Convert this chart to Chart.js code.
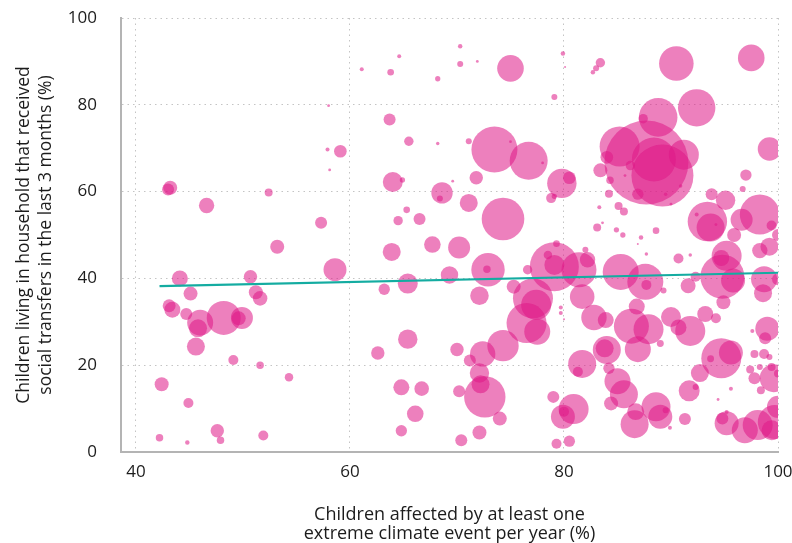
<!DOCTYPE html>
<html>
<head>
<meta charset="utf-8">
<script src="https://cdn.jsdelivr.net/npm/chart.js@4/dist/chart.umd.min.js"></script>
<style>
  html, body { margin: 0; padding: 0; background: #ffffff; }
  #wrap { width: 792px; height: 543px; }
</style>
</head>
<body>
<div id="wrap"><canvas id="chart" width="792" height="543"></canvas></div>
<script>
// Share of children affected by at least one extreme climate event per year (%)
const affectedPct = [
  43.0, 43.2, 46.6, 52.4, 57.3, 58.0, 57.9, 58.1, 59.1, 61.1,
  63.8, 64.6, 68.2, 70.3, 70.3, 71.9, 75.0, 63.7, 65.5, 68.2,
  71.1, 73.5, 75.0, 76.7, 78.0, 64.0, 64.9, 69.6, 71.8, 68.6,
  68.4, 71.1, 65.3, 64.5, 66.5, 74.3, 78.8, 79.1, 79.9, 80.1,
  79.1, 83.4, 83.0, 82.7, 90.5, 97.5, 88.8, 87.4, 92.4, 99.2,
  85.2, 87.7, 88.4, 89.2, 91.2, 84.0, 86.2, 83.4, 84.3, 86.9,
  84.2, 85.7, 90.9, 89.5, 90.0, 79.8, 80.5, 97.0, 96.7, 93.8,
  95.1, 93.4, 93.7, 98.3, 96.6, 99.4, 92.4, 83.3, 85.1, 85.6,
  83.6, 83.1, 84.9, 88.6, 100.0, 95.9, 99.2, 98.3, 85.5, 87.2,
  86.9, 87.7, 90.7, 91.8, 94.2, 53.2, 44.1, 50.7, 58.6, 45.1,
  43.1, 43.4, 44.7, 46.0, 45.8, 48.2, 49.9, 49.6, 51.2, 51.6,
  45.6, 49.1, 51.6, 54.3, 42.4, 44.9, 47.6, 47.9, 51.9, 42.2,
  44.8, 63.9, 67.7, 70.2, 72.9, 72.8, 69.3, 65.4, 63.2, 72.1,
  76.6, 75.3, 77.1, 76.5, 77.5, 77.4, 74.3, 72.4, 72.1, 72.2,
  72.6, 74.0, 72.1, 70.4, 70.2, 70.0, 71.2, 65.4, 62.6, 64.8,
  66.7, 66.1, 64.8, 79.1, 78.5, 79.1, 81.4, 82.0, 82.2, 79.3,
  85.3, 87.6, 87.7, 81.7, 82.8, 83.9, 79.7, 79.7, 80.0, 81.7,
  81.3, 80.9, 79.9, 80.0, 79.0, 79.3, 80.5, 84.0, 83.8, 84.2,
  85.0, 85.6, 84.4, 86.6, 86.7, 88.6, 89.0, 89.5, 91.3, 89.9,
  86.3, 87.9, 86.9, 86.8, 90.0, 90.7, 91.8, 91.6, 92.3, 89.3,
  89.0, 93.2, 94.2, 94.9, 94.8, 95.8, 95.2, 94.7, 98.7, 100.0,
  98.6, 99.0, 98.8, 97.6, 94.7, 95.6, 93.7, 92.7, 91.7, 92.3,
  95.6, 94.4, 95.2, 94.8, 95.2, 96.9, 98.1, 99.7, 100.0, 99.4,
  99.6, 100.0, 99.4, 98.3, 97.4, 97.8, 98.4, 97.8, 98.7, 99.2
];

// Share of children living in a household that received social transfers (%)
const transferPct = [
  60.5, 60.9, 56.8, 59.8, 52.8, 79.8, 69.7, 65.0, 69.3, 88.2,
  87.5, 91.2, 86.0, 93.5, 89.4, 90.0, 88.4, 76.6, 71.6, 71.1,
  71.6, 69.7, 71.5, 67.1, 66.6, 62.2, 62.7, 62.4, 63.2, 59.7,
  58.4, 57.4, 55.8, 53.3, 53.7, 53.7, 58.5, 58.9, 91.8, 88.7,
  81.8, 89.7, 88.4, 87.5, 89.5, 90.8, 77.1, 76.8, 79.3, 69.8,
  70.4, 66.7, 67.4, 63.7, 68.5, 67.9, 66.0, 64.9, 62.6, 59.4,
  59.5, 63.7, 61.3, 59.4, 57.1, 61.9, 63.2, 63.8, 60.6, 59.4,
  58.0, 53.1, 51.7, 54.7, 53.5, 52.2, 54.7, 56.4, 56.7, 55.4,
  52.8, 51.7, 51.2, 51.0, 50.0, 50.0, 47.3, 46.4, 50.0, 49.4,
  47.9, 45.6, 44.6, 45.4, 52.4, 47.3, 40.0, 40.4, 42.0, 36.5,
  33.7, 32.8, 31.8, 29.8, 28.5, 30.9, 30.9, 30.8, 36.8, 35.4,
  24.3, 21.2, 20.0, 17.2, 15.6, 11.3, 4.9, 2.7, 3.8, 3.3,
  2.2, 46.1, 47.8, 47.1, 42.0, 42.1, 40.8, 38.8, 37.5, 36.0,
  42.0, 38.1, 35.4, 29.7, 27.7, 33.9, 24.5, 22.6, 18.2, 15.6,
  12.7, 7.7, 4.5, 2.7, 14.0, 23.6, 21.1, 26.0, 22.8, 14.9,
  14.6, 8.8, 4.9, 42.7, 45.4, 43.1, 42.0, 46.6, 44.3, 48.0,
  41.5, 39.2, 38.5, 35.8, 31.0, 30.4, 33.3, 32.0, 30.6, 20.3,
  18.5, 9.9, 8.1, 9.3, 12.7, 1.9, 2.5, 23.5, 23.9, 19.3,
  16.3, 13.3, 11.2, 6.4, 9.3, 10.4, 8.1, 9.6, 7.6, 5.6,
  29.0, 28.3, 23.7, 33.5, 31.1, 28.7, 27.9, 38.3, 40.4, 37.2,
  25.0, 31.8, 30.8, 34.5, 40.4, 39.5, 45.2, 44.7, 39.8, 39.8,
  36.6, 28.4, 26.2, 27.9, 21.6, 22.9, 21.5, 18.2, 14.1, 15.0,
  14.6, 12.1, 6.6, 7.7, 9.2, 5.0, 6.2, 6.9, 10.4, 5.0,
  17.0, 18.1, 19.6, 19.6, 19.0, 17.0, 14.2, 22.6, 22.6, 21.9
];

// Relative child population behind each point (drives bubble area)
const childPopulation = [
  36, 49, 59, 16, 36, 2, 4, 2, 40, 4,
  11, 4, 7, 5, 9, 2, 177, 36, 22, 3,
  9, 529, 2, 361, 2, 100, 7, 2, 45, 114,
  9, 81, 11, 22, 36, 454, 25, 7, 5, 1,
  9, 22, 9, 5, 299, 177, 372, 22, 350, 137,
  400, 1764, 484, 961, 225, 40, 22, 49, 14, 32,
  16, 2, 3, 3, 2, 216, 40, 32, 9, 36,
  94, 388, 196, 400, 121, 25, 4, 4, 16, 16,
  2, 16, 7, 11, 36, 49, 81, 59, 7, 5,
  1, 3, 25, 3, 2, 49, 64, 45, 132, 49,
  42, 64, 36, 169, 81, 289, 121, 49, 49, 53,
  81, 25, 14, 18, 49, 25, 45, 14, 25, 14,
  5, 81, 69, 121, 279, 14, 76, 100, 32, 86,
  22, 49, 400, 400, 169, 225, 246, 161, 94, 81,
  428, 49, 49, 36, 36, 45, 36, 94, 45, 64,
  53, 69, 32, 600, 18, 100, 306, 9, 59, 11,
  324, 324, 25, 151, 161, 64, 4, 4, 1, 196,
  25, 225, 144, 25, 36, 25, 32, 196, 81, 32,
  169, 196, 49, 196, 72, 210, 144, 9, 36, 4,
  306, 225, 169, 64, 100, 64, 225, 56, 25, 9,
  12, 64, 25, 49, 484, 144, 225, 64, 169, 36,
  81, 144, 36, 4, 400, 144, 12, 81, 110, 9,
  4, 2, 144, 36, 4, 169, 225, 289, 121, 100,
  196, 16, 16, 9, 16, 36, 16, 16, 25, 9
];

// Linear trend across all points
const trendX = [42.2, 100];
const trendY = [38.2, 41.3];

const xTicks = [40, 60, 80, 100];
const yTicks = [0, 20, 40, 60, 80, 100];

const xTitle = ['Children affected by at least one', 'extreme climate event per year (%)'];
const yTitle = ['Children living in household that received', 'social transfers in the last 3 months (%)'];

const FONT = "'Open Sans', 'Noto Sans', sans-serif";
const TEXT = '#1c1c1c';

const bubbles = affectedPct.map((x, i) => ({ x: x, y: transferPct[i], r: Math.sqrt(childPopulation[i]) }));
const trend = trendX.map((x, i) => ({ x: x, y: trendY[i] }));

new Chart(document.getElementById('chart'), {
  type: 'bubble',
  data: {
    datasets: [
      {
        type: 'line',
        data: trend,
        borderColor: '#14aca1',
        borderWidth: 2.2,
        pointRadius: 0,
        fill: false,
        order: 0
      },
      {
        type: 'bubble',
        data: bubbles,
        backgroundColor: 'rgba(222, 24, 134, 0.55)',
        borderWidth: 0,
        hoverRadius: 0,
        order: 1
      }
    ]
  },
  options: {
    responsive: false,
    animation: false,
    events: [],
    layout: { autoPadding: false, padding: { top: 18, right: 14, left: 0, bottom: 0 } },
    plugins: { legend: { display: false }, tooltip: { enabled: false } },
    scales: {
      x: {
        type: 'linear',
        min: 38.6,
        max: 100,
        afterBuildTicks: s => { s.ticks = xTicks.map(v => ({ value: v })); },
        afterFit: s => { s.height = 91; s.paddingLeft = 0; s.paddingRight = 0; },
        grid: { color: '#c4c4c4', lineWidth: 1, drawTicks: false },
        border: { display: true, color: '#b4b4b4', width: 2, dash: [1.5, 4] },
        ticks: { color: TEXT, font: { family: FONT, size: 17 }, padding: 10, maxRotation: 0 },
        title: {
          display: true, text: xTitle, color: TEXT,
          font: { family: FONT, size: 18, lineHeight: 1.05 },
          padding: { top: 0, bottom: 0 }
        }
      },
      y: {
        type: 'linear',
        min: 0,
        max: 100,
        afterBuildTicks: s => { s.ticks = yTicks.map(v => ({ value: v })); },
        afterFit: s => { s.width = 121; s.paddingTop = 0; s.paddingBottom = 0; },
        grid: { color: '#c4c4c4', lineWidth: 1, drawTicks: false },
        border: { display: true, color: '#b4b4b4', width: 2, dash: [1.5, 4] },
        ticks: { color: TEXT, font: { family: FONT, size: 17 }, padding: 24 },
        title: {
          display: true, text: yTitle, color: TEXT,
          font: { family: FONT, size: 17.5, lineHeight: 1.25 },
          padding: { top: 13, bottom: 0 }
        }
      }
    }
  }
});
</script>
</body>
</html>
